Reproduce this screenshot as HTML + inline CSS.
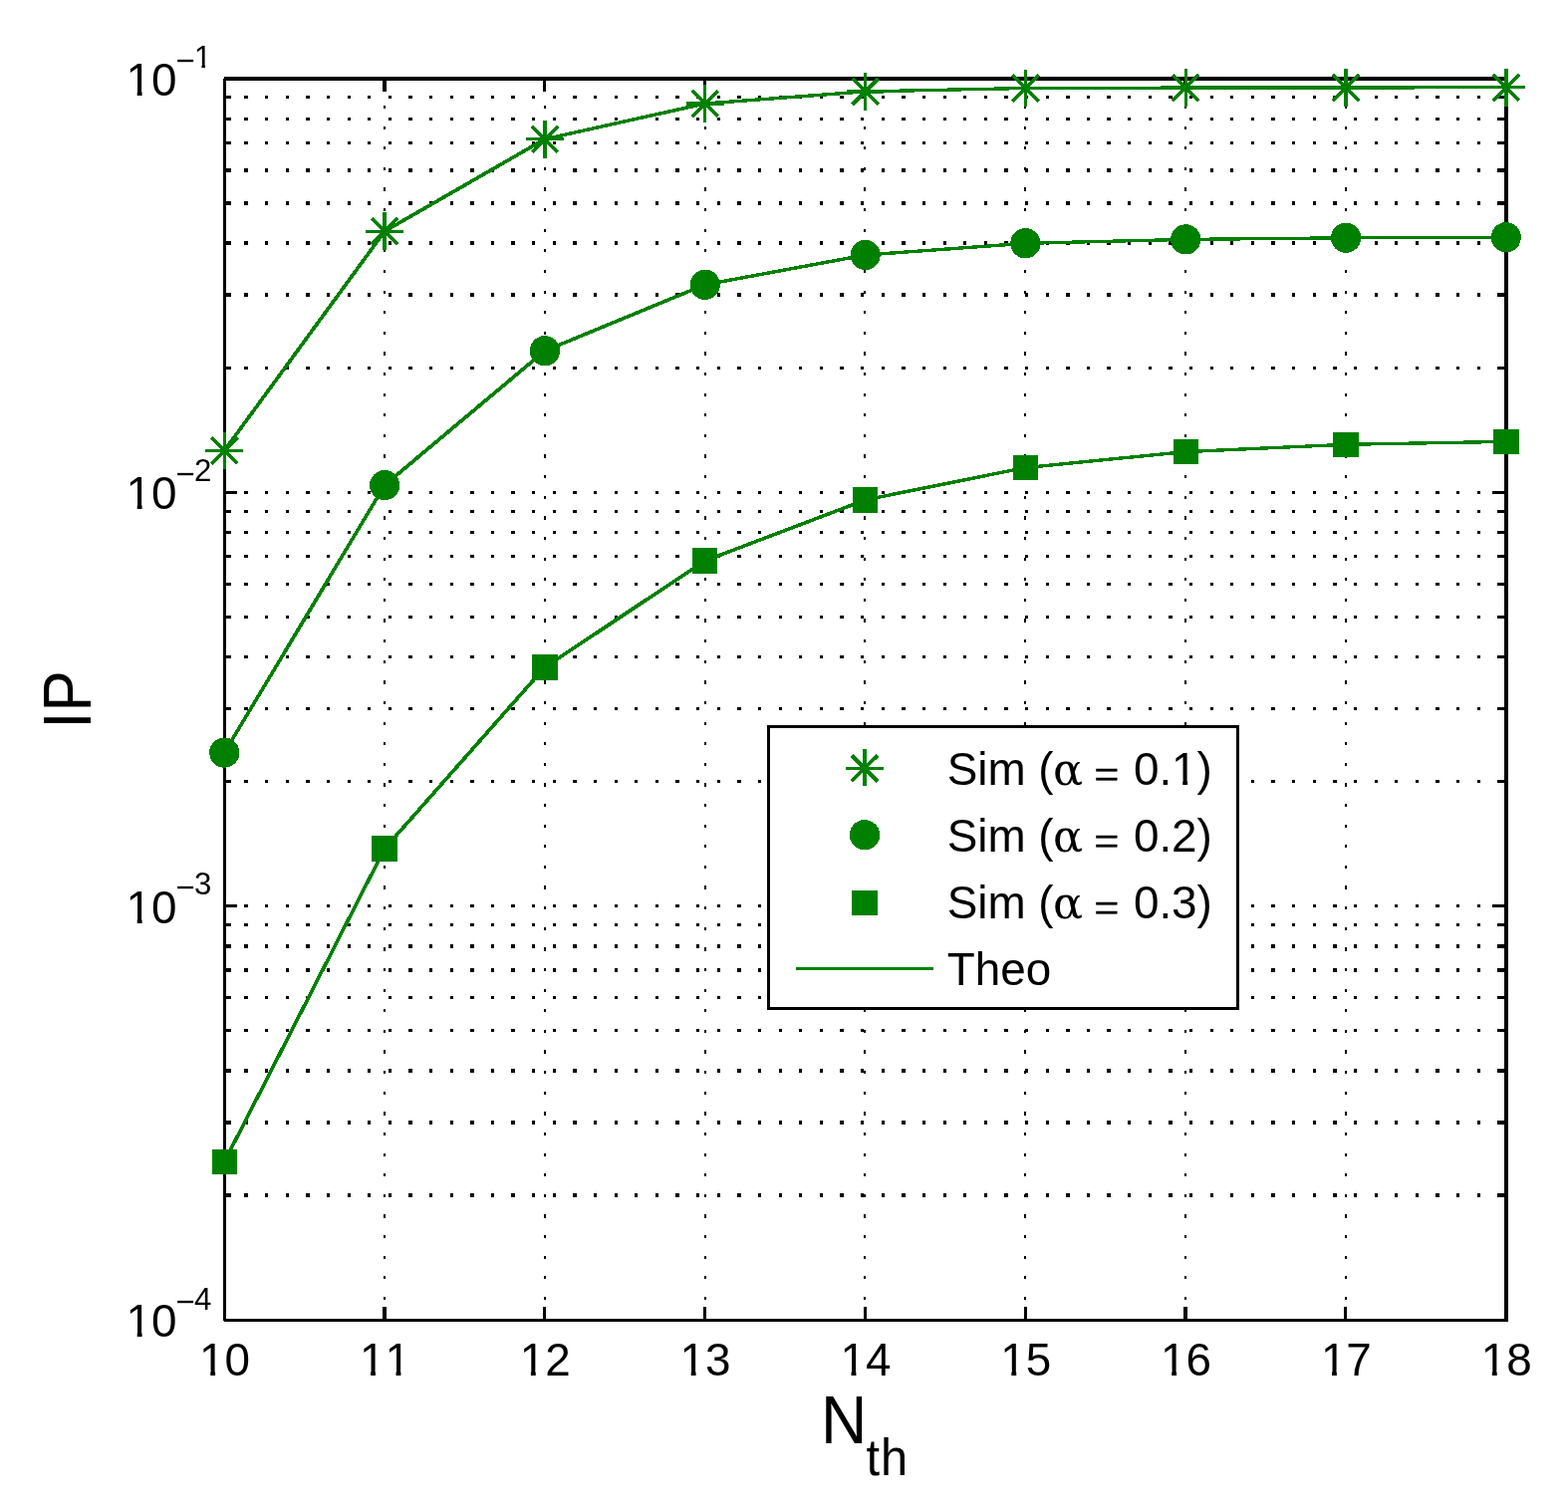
<!DOCTYPE html>
<html lang="en"><head><meta charset="utf-8"><title>IP versus N_th</title>
<style>
html,body{margin:0;padding:0;background:#fff;}
body{width:1574px;height:1516px;overflow:hidden;}
svg{display:block;}
text{font-family:"Liberation Sans",sans-serif;fill:#000;font-kerning:none;}
.sym{font-family:"DejaVu Serif","Liberation Serif",serif;}
.ser{font-family:"Liberation Serif",serif;}
</style></head><body>
<svg width="1574" height="1516" viewBox="0 0 1574 1516">
<rect x="0" y="0" width="1574" height="1516" fill="#fff"/>
<g shape-rendering="crispEdges" stroke="#000" fill="none">
<line x1="224.8" y1="494.31" x2="1511" y2="494.31" stroke-width="3.27" stroke-dasharray="3.280 17.340"/>
<line x1="224.8" y1="369.26" x2="1511" y2="369.26" stroke-width="3.27" stroke-dasharray="3.280 17.340"/>
<line x1="224.8" y1="296.10" x2="1511" y2="296.10" stroke-width="3.27" stroke-dasharray="3.280 17.340"/>
<line x1="224.8" y1="244.00" x2="1511" y2="244.00" stroke-width="3.27" stroke-dasharray="3.280 17.340"/>
<line x1="224.8" y1="203.94" x2="1511" y2="203.94" stroke-width="3.27" stroke-dasharray="3.280 17.340"/>
<line x1="224.8" y1="171.05" x2="1511" y2="171.05" stroke-width="3.27" stroke-dasharray="3.280 17.340"/>
<line x1="224.8" y1="143.24" x2="1511" y2="143.24" stroke-width="3.27" stroke-dasharray="3.280 17.340"/>
<line x1="224.8" y1="119.15" x2="1511" y2="119.15" stroke-width="3.27" stroke-dasharray="3.280 17.340"/>
<line x1="224.8" y1="97.50" x2="1511" y2="97.50" stroke-width="3.27" stroke-dasharray="3.280 17.340"/>
<line x1="224.8" y1="909.73" x2="1511" y2="909.73" stroke-width="3.27" stroke-dasharray="3.280 17.340"/>
<line x1="224.8" y1="784.68" x2="1511" y2="784.68" stroke-width="3.27" stroke-dasharray="3.280 17.340"/>
<line x1="224.8" y1="711.52" x2="1511" y2="711.52" stroke-width="3.27" stroke-dasharray="3.280 17.340"/>
<line x1="224.8" y1="659.62" x2="1511" y2="659.62" stroke-width="3.27" stroke-dasharray="3.280 17.340"/>
<line x1="224.8" y1="619.36" x2="1511" y2="619.36" stroke-width="3.27" stroke-dasharray="3.280 17.340"/>
<line x1="224.8" y1="586.47" x2="1511" y2="586.47" stroke-width="3.27" stroke-dasharray="3.280 17.340"/>
<line x1="224.8" y1="558.66" x2="1511" y2="558.66" stroke-width="3.27" stroke-dasharray="3.280 17.340"/>
<line x1="224.8" y1="534.57" x2="1511" y2="534.57" stroke-width="3.27" stroke-dasharray="3.280 17.340"/>
<line x1="224.8" y1="513.32" x2="1511" y2="513.32" stroke-width="3.27" stroke-dasharray="3.280 17.340"/>
<line x1="224.8" y1="1200.10" x2="1511" y2="1200.10" stroke-width="3.27" stroke-dasharray="3.280 17.340"/>
<line x1="224.8" y1="1126.94" x2="1511" y2="1126.94" stroke-width="3.27" stroke-dasharray="3.280 17.340"/>
<line x1="224.8" y1="1075.04" x2="1511" y2="1075.04" stroke-width="3.27" stroke-dasharray="3.280 17.340"/>
<line x1="224.8" y1="1034.78" x2="1511" y2="1034.78" stroke-width="3.27" stroke-dasharray="3.280 17.340"/>
<line x1="224.8" y1="1001.50" x2="1511" y2="1001.50" stroke-width="3.27" stroke-dasharray="3.280 17.340"/>
<line x1="224.8" y1="974.08" x2="1511" y2="974.08" stroke-width="3.27" stroke-dasharray="3.280 17.340"/>
<line x1="224.8" y1="949.99" x2="1511" y2="949.99" stroke-width="3.27" stroke-dasharray="3.280 17.340"/>
<line x1="224.8" y1="928.74" x2="1511" y2="928.74" stroke-width="3.27" stroke-dasharray="3.280 17.340"/>
<line x1="386" y1="1325.72" x2="386" y2="80" stroke-width="2" stroke-dasharray="3.200 17.420"/>
<line x1="547" y1="1325.72" x2="547" y2="80" stroke-width="2" stroke-dasharray="3.200 17.420"/>
<line x1="708" y1="1325.72" x2="708" y2="80" stroke-width="2" stroke-dasharray="3.200 17.420"/>
<line x1="868" y1="1325.72" x2="868" y2="80" stroke-width="2" stroke-dasharray="3.200 17.420"/>
<line x1="1029" y1="1325.72" x2="1029" y2="80" stroke-width="2" stroke-dasharray="3.200 17.420"/>
<line x1="1190" y1="1325.72" x2="1190" y2="80" stroke-width="2" stroke-dasharray="3.200 17.420"/>
<line x1="1351" y1="1325.72" x2="1351" y2="80" stroke-width="2" stroke-dasharray="3.200 17.420"/>
</g>
<g shape-rendering="crispEdges" fill="#000" stroke="#000" stroke-width="3.27">
<path d="M226 494.31H238M1498 494.31H1511" fill="none"/>
<path d="M226 369.26H232M1503 369.26H1511" fill="none"/>
<path d="M226 296.10H232M1503 296.10H1511" fill="none"/>
<path d="M226 244.00H232M1503 244.00H1511" fill="none"/>
<path d="M226 203.94H232M1503 203.94H1511" fill="none"/>
<path d="M226 171.05H232M1503 171.05H1511" fill="none"/>
<path d="M226 143.24H232M1503 143.24H1511" fill="none"/>
<path d="M226 119.15H232M1503 119.15H1511" fill="none"/>
<path d="M226 97.50H232M1503 97.50H1511" fill="none"/>
<path d="M226 909.73H238M1498 909.73H1511" fill="none"/>
<path d="M226 784.68H232M1503 784.68H1511" fill="none"/>
<path d="M226 711.52H232M1503 711.52H1511" fill="none"/>
<path d="M226 659.62H232M1503 659.62H1511" fill="none"/>
<path d="M226 619.36H232M1503 619.36H1511" fill="none"/>
<path d="M226 586.47H232M1503 586.47H1511" fill="none"/>
<path d="M226 558.66H232M1503 558.66H1511" fill="none"/>
<path d="M226 534.57H232M1503 534.57H1511" fill="none"/>
<path d="M226 513.32H232M1503 513.32H1511" fill="none"/>
<path d="M226 1200.10H232M1503 1200.10H1511" fill="none"/>
<path d="M226 1126.94H232M1503 1126.94H1511" fill="none"/>
<path d="M226 1075.04H232M1503 1075.04H1511" fill="none"/>
<path d="M226 1034.78H232M1503 1034.78H1511" fill="none"/>
<path d="M226 1001.50H232M1503 1001.50H1511" fill="none"/>
<path d="M226 974.08H232M1503 974.08H1511" fill="none"/>
<path d="M226 949.99H232M1503 949.99H1511" fill="none"/>
<path d="M226 928.74H232M1503 928.74H1511" fill="none"/>
</g>
<g shape-rendering="crispEdges" fill="#000">
<rect x="384" y="1312" width="4" height="12"/>
<rect x="384" y="81" width="4" height="11"/>
<rect x="545" y="1312" width="3" height="12"/>
<rect x="545" y="81" width="3" height="11"/>
<rect x="706" y="1312" width="3" height="12"/>
<rect x="706" y="81" width="3" height="11"/>
<rect x="867" y="1312" width="3" height="12"/>
<rect x="867" y="81" width="3" height="11"/>
<rect x="1028" y="1312" width="3" height="12"/>
<rect x="1028" y="81" width="3" height="11"/>
<rect x="1188" y="1312" width="4" height="12"/>
<rect x="1188" y="81" width="4" height="11"/>
<rect x="1349" y="1312" width="3" height="12"/>
<rect x="1349" y="81" width="3" height="11"/>
<rect x="225" y="77" width="1289" height="4"/>
<rect x="225" y="1324" width="1289" height="3"/>
<rect x="224" y="79" width="3" height="1247"/>
<rect x="1510" y="77" width="4" height="1250"/>
</g>
<g shape-rendering="crispEdges">
<line x1="225.30" y1="452.40" x2="386.12" y2="232.20" stroke="#008000" stroke-width="3.70"/>
<line x1="386.12" y1="232.20" x2="546.95" y2="139.70" stroke="#008000" stroke-width="3.67"/>
<line x1="546.95" y1="139.70" x2="707.78" y2="104.00" stroke="#008000" stroke-width="3.49"/>
<line x1="707.78" y1="104.00" x2="868.60" y2="91.90" stroke="#008000" stroke-width="3.37"/>
<line x1="868.60" y1="91.90" x2="1029.43" y2="88.50" stroke="#008000" stroke-width="3.32"/>
<line x1="1029.43" y1="88.50" x2="1190.25" y2="88.10" stroke="#008000" stroke-width="3.30"/>
<line x1="1190.25" y1="88.10" x2="1351.08" y2="87.90" stroke="#008000" stroke-width="3.30"/>
<line x1="1351.08" y1="87.90" x2="1511.90" y2="87.80" stroke="#008000" stroke-width="3.30"/>
<line x1="225.30" y1="755.60" x2="386.12" y2="487.10" stroke="#008000" stroke-width="3.67"/>
<line x1="386.12" y1="487.10" x2="546.95" y2="352.20" stroke="#008000" stroke-width="3.71"/>
<line x1="546.95" y1="352.20" x2="707.78" y2="285.80" stroke="#008000" stroke-width="3.61"/>
<line x1="707.78" y1="285.80" x2="868.60" y2="256.00" stroke="#008000" stroke-width="3.47"/>
<line x1="868.60" y1="256.00" x2="1029.43" y2="244.30" stroke="#008000" stroke-width="3.37"/>
<line x1="1029.43" y1="244.30" x2="1190.25" y2="240.40" stroke="#008000" stroke-width="3.32"/>
<line x1="1190.25" y1="240.40" x2="1351.08" y2="238.80" stroke="#008000" stroke-width="3.31"/>
<line x1="1351.08" y1="238.80" x2="1511.90" y2="238.20" stroke="#008000" stroke-width="3.30"/>
<line x1="225.30" y1="1166.40" x2="386.12" y2="852.00" stroke="#008000" stroke-width="3.65"/>
<line x1="386.12" y1="852.00" x2="546.95" y2="669.90" stroke="#008000" stroke-width="3.71"/>
<line x1="546.95" y1="669.90" x2="707.78" y2="563.00" stroke="#008000" stroke-width="3.69"/>
<line x1="707.78" y1="563.00" x2="868.60" y2="501.90" stroke="#008000" stroke-width="3.59"/>
<line x1="868.60" y1="501.90" x2="1029.43" y2="469.50" stroke="#008000" stroke-width="3.48"/>
<line x1="1029.43" y1="469.50" x2="1190.25" y2="453.60" stroke="#008000" stroke-width="3.39"/>
<line x1="1190.25" y1="453.60" x2="1351.08" y2="446.30" stroke="#008000" stroke-width="3.34"/>
<line x1="1351.08" y1="446.30" x2="1511.90" y2="443.40" stroke="#008000" stroke-width="3.32"/>
<path d="M206.45 452.40H244.15M225.30 433.55V471.25" fill="none" stroke="#008000" stroke-width="3.3"/><path d="M212.20 439.30L238.40 465.50M212.20 465.50L238.40 439.30" fill="none" stroke="#008000" stroke-width="3.7"/>
<path d="M367.27 232.20H404.98M386.12 213.35V251.05" fill="none" stroke="#008000" stroke-width="3.3"/><path d="M373.02 219.10L399.23 245.30M373.02 245.30L399.23 219.10" fill="none" stroke="#008000" stroke-width="3.7"/>
<path d="M528.10 139.70H565.80M546.95 120.85V158.55" fill="none" stroke="#008000" stroke-width="3.3"/><path d="M533.85 126.60L560.05 152.80M533.85 152.80L560.05 126.60" fill="none" stroke="#008000" stroke-width="3.7"/>
<path d="M688.93 104.00H726.63M707.78 85.15V122.85" fill="none" stroke="#008000" stroke-width="3.3"/><path d="M694.68 90.90L720.88 117.10M694.68 117.10L720.88 90.90" fill="none" stroke="#008000" stroke-width="3.7"/>
<path d="M849.75 91.90H887.45M868.60 73.05V110.75" fill="none" stroke="#008000" stroke-width="3.3"/><path d="M855.50 78.80L881.70 105.00M855.50 105.00L881.70 78.80" fill="none" stroke="#008000" stroke-width="3.7"/>
<path d="M1010.58 88.50H1048.28M1029.43 69.65V107.35" fill="none" stroke="#008000" stroke-width="3.3"/><path d="M1016.33 75.40L1042.53 101.60M1016.33 101.60L1042.53 75.40" fill="none" stroke="#008000" stroke-width="3.7"/>
<path d="M1171.40 88.10H1209.10M1190.25 69.25V106.95" fill="none" stroke="#008000" stroke-width="3.3"/><path d="M1177.15 75.00L1203.35 101.20M1177.15 101.20L1203.35 75.00" fill="none" stroke="#008000" stroke-width="3.7"/>
<path d="M1332.23 87.90H1369.92M1351.08 69.05V106.75" fill="none" stroke="#008000" stroke-width="3.3"/><path d="M1337.98 74.80L1364.17 101.00M1337.98 101.00L1364.17 74.80" fill="none" stroke="#008000" stroke-width="3.7"/>
<path d="M1493.05 87.80H1530.75M1511.90 68.95V106.65" fill="none" stroke="#008000" stroke-width="3.3"/><path d="M1498.80 74.70L1525.00 100.90M1498.80 100.90L1525.00 74.70" fill="none" stroke="#008000" stroke-width="3.7"/>
<circle cx="225.30" cy="755.60" r="15.1" fill="#008000"/>
<circle cx="386.12" cy="487.10" r="15.1" fill="#008000"/>
<circle cx="546.95" cy="352.20" r="15.1" fill="#008000"/>
<circle cx="707.78" cy="285.80" r="15.1" fill="#008000"/>
<circle cx="868.60" cy="256.00" r="15.1" fill="#008000"/>
<circle cx="1029.43" cy="244.30" r="15.1" fill="#008000"/>
<circle cx="1190.25" cy="240.40" r="15.1" fill="#008000"/>
<circle cx="1351.08" cy="238.80" r="15.1" fill="#008000"/>
<circle cx="1511.90" cy="238.20" r="15.1" fill="#008000"/>
<rect x="212.65" y="1153.75" width="25.3" height="25.3" fill="#008000"/>
<rect x="373.48" y="839.35" width="25.3" height="25.3" fill="#008000"/>
<rect x="534.30" y="657.25" width="25.3" height="25.3" fill="#008000"/>
<rect x="695.13" y="550.35" width="25.3" height="25.3" fill="#008000"/>
<rect x="855.95" y="489.25" width="25.3" height="25.3" fill="#008000"/>
<rect x="1016.78" y="456.85" width="25.3" height="25.3" fill="#008000"/>
<rect x="1177.60" y="440.95" width="25.3" height="25.3" fill="#008000"/>
<rect x="1338.42" y="433.65" width="25.3" height="25.3" fill="#008000"/>
<rect x="1499.25" y="430.75" width="25.3" height="25.3" fill="#008000"/>
</g>
<g shape-rendering="crispEdges">
<rect x="770" y="728" width="474" height="286" fill="#000"/>
<rect x="773" y="731" width="468" height="280" fill="#fff"/>
<path d="M849.15 771.4H886.85M868 751.9V788.9" fill="none" stroke="#008000" stroke-width="3.3"/><path d="M854.9 758.3L881.1 784.5M854.9 784.5L881.1 758.3" fill="none" stroke="#008000" stroke-width="3.7"/>
<circle cx="868" cy="838.3" r="15.2" fill="#008000"/>
<rect x="855" y="894" width="26" height="25" fill="#008000"/>
<rect x="799" y="971" width="138" height="3" fill="#008000"/>
</g>
<text y="788.20" font-size="45.83"><tspan x="950.7">Sim (</tspan><tspan class="sym" x="1056.9" font-size="44.5">α</tspan><tspan class="ser" x="1087.00" dy="3.5" font-size="44.5" stroke="#000" stroke-width="0.5"> = </tspan><tspan x="1137.9" dy="-3.5">0.1)</tspan></text>
<text y="855.20" font-size="45.83"><tspan x="950.7">Sim (</tspan><tspan class="sym" x="1056.9" font-size="44.5">α</tspan><tspan class="ser" x="1087.00" dy="3.5" font-size="44.5" stroke="#000" stroke-width="0.5"> = </tspan><tspan x="1137.9" dy="-3.5">0.2)</tspan></text>
<text y="922.20" font-size="45.83"><tspan x="950.7">Sim (</tspan><tspan class="sym" x="1056.9" font-size="44.5">α</tspan><tspan class="ser" x="1087.00" dy="3.5" font-size="44.5" stroke="#000" stroke-width="0.5"> = </tspan><tspan x="1137.9" dy="-3.5">0.3)</tspan></text>
<text x="950.7" y="989.0" font-size="45.83">Theo</text>
<text x="225.60" y="1380.90" font-size="45.83" text-anchor="middle">10</text>
<text x="386.43" y="1380.90" font-size="45.83" text-anchor="middle">11</text>
<text x="547.25" y="1380.90" font-size="45.83" text-anchor="middle">12</text>
<text x="708.08" y="1380.90" font-size="45.83" text-anchor="middle">13</text>
<text x="868.90" y="1380.90" font-size="45.83" text-anchor="middle">14</text>
<text x="1029.73" y="1380.90" font-size="45.83" text-anchor="middle">15</text>
<text x="1190.55" y="1380.90" font-size="45.83" text-anchor="middle">16</text>
<text x="1351.38" y="1380.90" font-size="45.83" text-anchor="middle">17</text>
<text x="1512.20" y="1380.90" font-size="45.83" text-anchor="middle">18</text>
<text x="126.6" y="95.70" font-size="45.83">10<tspan x="176.3" y="71.50" font-size="33">−</tspan><tspan x="195" y="68.20" font-size="31.20">1</tspan></text>
<text x="126.6" y="511.37" font-size="45.83">10<tspan x="176.3" y="486.77" font-size="33">−</tspan><tspan x="195" y="483.47" font-size="31.20">2</tspan></text>
<text x="126.6" y="927.04" font-size="45.83">10<tspan x="176.3" y="901.54" font-size="33">−</tspan><tspan x="195" y="897.94" font-size="31.20">3</tspan></text>
<text x="126.6" y="1342.11" font-size="45.83">10<tspan x="176.3" y="1318.21" font-size="33">−</tspan><tspan x="195" y="1314.51" font-size="31.20">4</tspan></text>
<text transform="translate(824 1449) scale(1 1.06)" font-size="64.2">N<tspan x="45.6" y="30.19" font-size="48.8" letter-spacing="0.9">th</tspan></text>
<text transform="translate(91.00 702.50) rotate(-90) scale(0.965 1.065)" font-size="64.20" text-anchor="middle">IP</text>
<g fill="#fff">
<rect x="1178.11" y="782.28" width="9.13" height="7.42"/>
<rect x="1192.10" y="782.28" width="8.78" height="7.42"/>
<rect x="202.10" y="1374.98" width="9.13" height="7.42"/>
<rect x="216.09" y="1374.98" width="8.78" height="7.42"/>
<rect x="362.93" y="1374.98" width="9.13" height="7.42"/>
<rect x="376.91" y="1374.98" width="8.78" height="7.42"/>
<rect x="388.42" y="1374.98" width="9.13" height="7.42"/>
<rect x="402.40" y="1374.98" width="8.78" height="7.42"/>
<rect x="523.75" y="1374.98" width="9.13" height="7.42"/>
<rect x="537.74" y="1374.98" width="8.78" height="7.42"/>
<rect x="684.58" y="1374.98" width="9.13" height="7.42"/>
<rect x="698.56" y="1374.98" width="8.78" height="7.42"/>
<rect x="845.40" y="1374.98" width="9.13" height="7.42"/>
<rect x="859.39" y="1374.98" width="8.78" height="7.42"/>
<rect x="1006.23" y="1374.98" width="9.13" height="7.42"/>
<rect x="1020.21" y="1374.98" width="8.78" height="7.42"/>
<rect x="1167.05" y="1374.98" width="9.13" height="7.42"/>
<rect x="1181.04" y="1374.98" width="8.78" height="7.42"/>
<rect x="1327.88" y="1374.98" width="9.13" height="7.42"/>
<rect x="1341.86" y="1374.98" width="8.78" height="7.42"/>
<rect x="1488.70" y="1374.98" width="9.13" height="7.42"/>
<rect x="1502.69" y="1374.98" width="8.78" height="7.42"/>
<rect x="128.59" y="89.78" width="9.13" height="7.42"/>
<rect x="142.58" y="89.78" width="8.78" height="7.42"/>
<rect x="195.88" y="63.37" width="6.57" height="6.33"/>
<rect x="206.00" y="63.37" width="6.33" height="6.33"/>
<rect x="128.59" y="505.45" width="9.13" height="7.42"/>
<rect x="142.58" y="505.45" width="8.78" height="7.42"/>
<rect x="128.59" y="921.12" width="9.13" height="7.42"/>
<rect x="142.58" y="921.12" width="8.78" height="7.42"/>
<rect x="128.59" y="1336.19" width="9.13" height="7.42"/>
<rect x="142.58" y="1336.19" width="8.78" height="7.42"/>
</g>
</svg>
</body></html>
